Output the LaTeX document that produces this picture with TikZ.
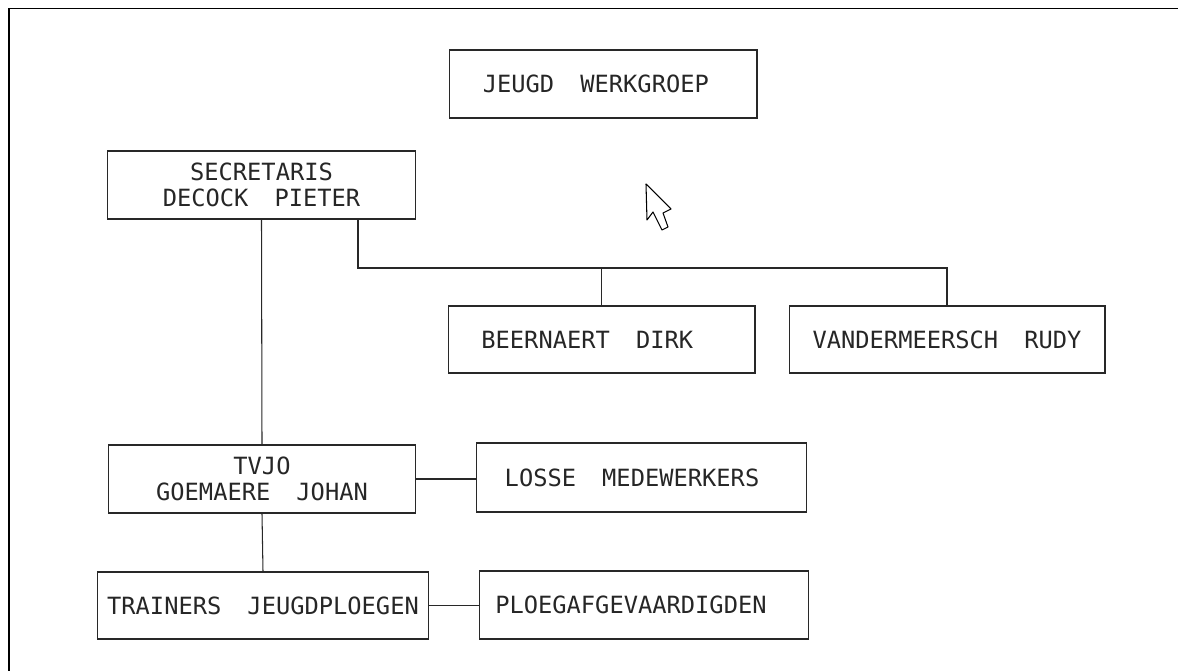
\documentclass[tikz,border=0pt]{standalone}
\usepackage{fontspec}
\usepackage{tikz}
\usetikzlibrary{calc, positioning}
\newfontfamily\dinfont{DejaVu Sans Mono}
\definecolor{inkgray}{RGB}{40, 40, 40}
\newcommand{\wsp}{\hspace{1.1em}}

\begin{document}
\begin{tikzpicture}[x=0.02cm, y=-0.02cm,
    orgbox/.style={draw=inkgray, line width=0.6pt, inner sep=0pt,
                   align=center, text=black!85,
                   font=\dinfont\fontsize{13.5}{14.7}\selectfont},
    orgline/.style={draw=inkgray, line width=0.6pt}]
  \useasboundingbox (0,0) rectangle (1178,671);

  %--- frame ---
  \draw[line width=1.1pt](9,671)--(9,8.5)--(1178,8.5);

  %--- boxes ---
  \node[orgbox, minimum width=6.16cm, minimum height=1.36cm] (jeugd) at (603,84)
    {JEUGD\wsp WERKGROEP\hspace{0.6em}};
  \node[orgbox, minimum width=6.18cm, minimum height=1.36cm] (secr) at (261.5,185)
    {SECRETARIS\\DECOCK\wsp PIETER};
  \node[orgbox, minimum width=6.14cm, minimum height=1.34cm] (beer) at (601.5,339.5)
    {BEERNAERT\wsp DIRK\hspace{1.2em}};
  \node[orgbox, minimum width=6.32cm, minimum height=1.34cm] (vander) at (947,339.5)
    {VANDERMEERSCH\wsp RUDY};
  \node[orgbox, minimum width=6.16cm, minimum height=1.36cm] (tvjo) at (262,479)
    {TVJO\\GOEMAERE\wsp JOHAN};
  \node[orgbox, minimum width=6.62cm, minimum height=1.38cm] (losse) at (641.5,477.5)
    {LOSSE\wsp MEDEWERKERS\hspace{0.8em}};
  \node[orgbox, minimum width=6.64cm, minimum height=1.34cm] (trainers) at (263,605.5)
    {TRAINERS\wsp JEUGDPLOEGEN};
  \node[orgbox, minimum width=6.60cm, minimum height=1.36cm] (ploeg) at (644,605)
    {PLOEGAFGEVAARDIGDEN\hspace{1.1em}};

  %--- connectors ---
  \coordinate (bus) at (358,268);
  \draw[orgline] (secr.south) -- (tvjo.north);
  \draw[orgline] (secr.south -| bus) -- (bus) -| (vander.north);
  \draw[orgline] (bus -| beer.north) -- (beer.north);
  \draw[orgline] (tvjo.east) -- (tvjo.east -| losse.west);
  \draw[orgline] (tvjo.south) -- (trainers.north);
  \draw[orgline] (trainers.east) -- (trainers.east -| ploeg.west);

  %--- mouse pointer ---
  \draw[line width=0.6pt, fill=white, line join=round]
    (646,184)--(647,220)--(653,212)--(662,230)--(668,227)--(663,213)--(671,209)--cycle;
\end{tikzpicture}
\end{document}
